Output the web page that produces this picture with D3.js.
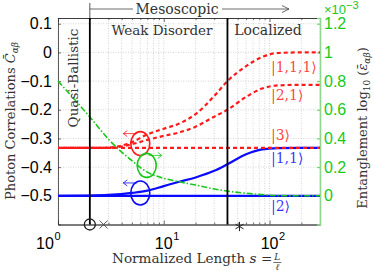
<!DOCTYPE html>
<html>
<head>
<meta charset="utf-8">
<script src="https://cdn.jsdelivr.net/npm/d3@7"></script>
<style>
body { margin: 0; background: #fff; }
svg { display: block; }
</style>
</head>
<body>
<div class="canvas"></div>
<script>
// sample lengths s = L / l
var sValues = [1, 2, 3, 5, 7, 10, 14, 20, 30, 40, 60, 85, 120, 200, 300];
// photon correlations (left axis)
var ket111 = [-0.333, -0.333, -0.332, -0.313, -0.286, -0.266, -0.248, -0.215, -0.152, -0.100, -0.048, -0.016, -0.002, 0, 0];
var ket21  = [-0.333, -0.333, -0.333, -0.320, -0.305, -0.291, -0.279, -0.259, -0.224, -0.200, -0.155, -0.126, -0.115, -0.113, -0.113];
var ket3   = [-0.333, -0.333, -0.333, -0.333, -0.333, -0.333, -0.333, -0.333, -0.333, -0.333, -0.333, -0.333, -0.333, -0.333, -0.333];
var ket11  = [-0.500, -0.499, -0.497, -0.490, -0.482, -0.466, -0.451, -0.436, -0.413, -0.390, -0.355, -0.338, -0.334, -0.333, -0.333];
var ket2   = [-0.500, -0.500, -0.500, -0.500, -0.500, -0.500, -0.500, -0.500, -0.500, -0.500, -0.500, -0.500, -0.500, -0.500, -0.500];
// entanglement (right axis, x 1e-3)
var entangle = [0.80, 0.55, 0.395, 0.245, 0.165, 0.122, 0.098, 0.075, 0.048, 0.033, 0.018, 0.008, 0.002, 0, 0];

var leftTicks = [0.1, 0, -0.1, -0.2, -0.3, -0.4, -0.5];
var rightTicks = [0, 0.2, 0.4, 0.6, 0.8, 1, 1.2];
var xMajor = [1, 10, 100];
var xMinor = [2, 3, 4, 5, 6, 7, 8, 9, 20, 30, 40, 50, 60, 70, 80, 90, 200, 300];
var regionBounds = [2, 40];
var ketNames = ["|1,1,1\u27E9", "|2,1\u27E9", "|3\u27E9", "|1,1\u27E9", "|2\u27E9"];
// "O" annotations: s position, left-axis value
var ringS = [6, 6.9, 6];
var ringV = [-0.318, -0.394, -0.49];

var W = 374, H = 271;
var pL = 58, pR = 320, pT = 18, pB = 224.5;

var x = d3.scaleLog().domain([1, 300]).range([pL, pR]);
var yL = d3.scaleLinear().domain([-0.6, 0.12]).range([pB, pT]);
var yR = d3.scaleLinear().domain([-0.2, 1.24]).range([pB, pT]);

var RED = "#ff1a1a", BLUE = "#0a0aff", GREEN = "#19c819";
var SERIF = "'DejaVu Serif', serif", SANS = "'Liberation Sans', Arial, sans-serif";

var svg = d3.select(".canvas").append("svg")
	.attr("width", W)
	.attr("height", H);

// grid
var grid = svg.append("g");
xMajor.concat(xMinor).forEach(function(v){
	grid.append("line")
		.attr("x1", x(v)).attr("x2", x(v))
		.attr("y1", pT).attr("y2", pB)
		.attr("stroke", "#c4c4c4")
		.attr("stroke-width", 0.7)
		.attr("stroke-dasharray", "1,1.5");
});
leftTicks.forEach(function(v){
	grid.append("line")
		.attr("x1", pL).attr("x2", pR)
		.attr("y1", yL(v)).attr("y2", yL(v))
		.attr("stroke", "#c4c4c4")
		.attr("stroke-width", 0.7)
		.attr("stroke-dasharray", "1,1.5");
});

// axes
svg.append("g").attr("transform", "translate(0," + pB + ")")
	.call(d3.axisBottom(x).tickValues(xMajor).tickSize(-4).tickFormat(""));
svg.append("g").attr("transform", "translate(0," + pB + ")")
	.call(d3.axisBottom(x).tickValues(xMinor).tickSize(-2).tickFormat(""));
svg.append("g").attr("transform", "translate(0," + pT + ")")
	.call(d3.axisTop(x).tickValues(xMajor).tickSize(-4).tickFormat(""));
svg.append("g").attr("transform", "translate(0," + pT + ")")
	.call(d3.axisTop(x).tickValues(xMinor).tickSize(-2).tickFormat(""));
var axL = svg.append("g").attr("transform", "translate(" + pL + ",0)")
	.call(d3.axisLeft(yL).tickValues(leftTicks).tickSize(-3).tickPadding(6)
		.tickFormat(function(d){ return d === 0 ? "0" : d3.format(".1f")(d).replace("-", "\u2212"); }));
var axR = svg.append("g").attr("transform", "translate(" + pR + ",0)")
	.call(d3.axisRight(yR).tickValues(rightTicks).tickSize(-3).tickPadding(4)
		.tickFormat(function(d){ return d === 0 || d === 1 ? String(d) : d3.format(".1f")(d); }));

svg.selectAll(".domain").attr("stroke", "#333").attr("stroke-width", 0.8);
svg.selectAll(".tick line").attr("stroke", "#333").attr("stroke-width", 0.7);
axL.selectAll("text").attr("font-family", SANS).attr("font-size", "16px").attr("fill", "#000");
axR.selectAll("text").attr("font-family", SANS).attr("font-size", "16px").attr("fill", GREEN);
axR.select(".domain").attr("stroke", "#8fd68f").attr("stroke-width", 1.6);
axR.selectAll(".tick line").attr("stroke", GREEN);

// x tick labels 10^k
xMajor.forEach(function(v, i){
	var t = svg.append("text")
		.attr("x", x(v) + (i === 0 ? -13 : 0))
		.attr("y", pB + 24)
		.attr("text-anchor", "middle")
		.attr("font-family", SANS)
		.attr("font-size", "16px")
		.text("10");
	var bb = t.node().getBBox();
	svg.append("text")
		.attr("x", bb.x + bb.width + 0.5)
		.attr("y", pB + 15)
		.attr("font-family", SANS)
		.attr("font-size", "11px")
		.text(String(Math.round(Math.log10(v))));
});

// curves
var line = function(ys, yscale){
	return d3.line()
		.x(function(d, i){ return x(sValues[i]); })
		.y(function(d){ return yscale(d); })
		.curve(d3.curveMonotoneX)(ys);
};
var plot = svg.append("g");
plot.append("path").attr("d", line(ket2, yL)).attr("fill", "none").attr("stroke", BLUE).attr("stroke-width", 2.2);
plot.append("path").attr("d", line(ket11, yL)).attr("fill", "none").attr("stroke", BLUE).attr("stroke-width", 2.2);
[ket3, ket21, ket111].forEach(function(c, i){
	plot.append("path").attr("d", line(c, yL)).attr("fill", "none")
		.attr("stroke", RED).attr("stroke-width", 2.2)
		.attr("stroke-dasharray", "4,3").attr("stroke-dashoffset", i * 2);
});
plot.append("path").attr("d", line(entangle, yR)).attr("fill", "none")
	.attr("stroke", GREEN).attr("stroke-width", 1.6)
	.attr("stroke-dasharray", "6,2,1.5,2");

// region boundaries
regionBounds.forEach(function(v){
	svg.append("line")
		.attr("x1", x(v)).attr("x2", x(v))
		.attr("y1", pT).attr("y2", pB)
		.attr("stroke", "#000").attr("stroke-width", 1.8);
});

// Mesoscopic bracket
var xb = x(regionBounds[0]);
svg.append("line").attr("x1", xb).attr("x2", xb).attr("y1", 3).attr("y2", pT)
	.attr("stroke", "#444").attr("stroke-width", 0.9);
svg.append("line").attr("x1", xb).attr("x2", 133).attr("y1", 9).attr("y2", 9)
	.attr("stroke", "#444").attr("stroke-width", 0.8);
svg.append("line").attr("x1", 222).attr("x2", 289).attr("y1", 9).attr("y2", 9)
	.attr("stroke", "#444").attr("stroke-width", 0.8);
svg.append("path").attr("d", "M282,5.5L289,9L282,12.5").attr("fill", "none")
	.attr("stroke", "#444").attr("stroke-width", 0.8);
svg.append("text").attr("x", 177).attr("y", 13.5).attr("text-anchor", "middle")
	.attr("font-family", SERIF).attr("font-size", "14px").attr("fill", "#333")
	.text("Mesoscopic");

svg.append("text").attr("x", 162).attr("y", 35).attr("text-anchor", "middle")
	.attr("font-family", SERIF).attr("font-size", "13.5px").attr("fill", "#333")
	.text("Weak Disorder");
svg.append("text").attr("x", 268).attr("y", 35).attr("text-anchor", "middle")
	.attr("font-family", SERIF).attr("font-size", "14px").attr("fill", "#333")
	.text("Localized");
svg.append("text").attr("transform", "translate(78,78) rotate(-90)").attr("text-anchor", "middle")
	.attr("font-family", SERIF).attr("font-size", "13.5px").attr("fill", "#333")
	.text("Quasi-Ballistic");

// ket labels
var ketEnd = [ket111, ket21, ket3, ket11, ket2].map(function(c){ return c[c.length - 1]; });
var ketDy = [20, 15, -8, 15, 15];
var ketColor = [RED, RED, RED, BLUE, BLUE];
ketNames.forEach(function(n, i){
	svg.append("text")
		.attr("x", 271)
		.attr("y", yL(ketEnd[i]) + ketDy[i])
		.attr("font-family", SERIF).attr("font-size", "14px")
		.attr("fill", ketColor[i]).attr("fill-opacity", 0.85)
		.text(n);
});

// rings with arrows
var ringColor = [RED, GREEN, BLUE];
var ringDir = [-1, 1, -1];
ringS.forEach(function(s, i){
	var cx = x(s), cy = yL(ringV[i]);
	svg.append("ellipse").attr("cx", cx).attr("cy", cy).attr("rx", 9.5).attr("ry", 12)
		.attr("fill", "none").attr("stroke", ringColor[i]).attr("stroke-width", 1.6);
	var ay = cy - 10;
	var x0, x1;
	if (ringDir[i] < 0) { x0 = cx - 3; x1 = cx - 17; } else { x0 = cx + 2; x1 = cx + 15; }
	svg.append("line").attr("x1", x0).attr("x2", x1).attr("y1", ay).attr("y2", ay)
		.attr("stroke", ringColor[i]).attr("stroke-width", 0.8);
	svg.append("path")
		.attr("d", "M" + (x1 - ringDir[i] * 4) + "," + (ay - 3) + "L" + x1 + "," + ay + "L" + (x1 - ringDir[i] * 4) + "," + (ay + 3))
		.attr("fill", "none").attr("stroke", ringColor[i]).attr("stroke-width", 0.8);
});

// markers on the axis
svg.append("circle").attr("cx", x(2)).attr("cy", pB).attr("r", 5.5)
	.attr("fill", "none").attr("stroke", "#222").attr("stroke-width", 1.3);
var xx = x(2.7);
svg.append("path").attr("d", "M" + (xx - 4) + "," + (pB - 4) + "L" + (xx + 4) + "," + (pB + 4) + "M" + (xx - 4) + "," + (pB + 4) + "L" + (xx + 4) + "," + (pB - 4))
	.attr("stroke", "#444").attr("stroke-width", 0.9);
svg.append("path").attr("d", d3.symbol().type(d3.symbolAsterisk).size(60)())
	.attr("transform", "translate(" + x(52) + "," + (pB + 2) + ")")
	.attr("fill", "none").attr("stroke", "#222").attr("stroke-width", 1);

// axis labels
var yLab = svg.append("text").attr("transform", "translate(15,121) rotate(-90)")
	.attr("text-anchor", "middle").attr("font-family", SERIF).attr("font-size", "13px").attr("fill", "#333");
yLab.append("tspan").text("Photon Correlations ");
yLab.append("tspan").attr("font-style", "italic").text("C\u0304");
yLab.append("tspan").attr("font-style", "italic").attr("font-size", "9px").attr("dy", 3).text("\u03B1\u03B2");

var rLab = svg.append("text").attr("transform", "translate(367,128) rotate(-90)")
	.attr("text-anchor", "middle").attr("font-family", SERIF).attr("font-size", "13px").attr("fill", "#333");
rLab.append("tspan").text("Entanglement log");
rLab.append("tspan").attr("font-size", "9px").attr("dy", 3).text("10");
rLab.append("tspan").attr("dy", -3).text(" (");
rLab.append("tspan").attr("font-style", "italic").text("\u03B5\u0304");
rLab.append("tspan").attr("font-style", "italic").attr("font-size", "9px").attr("dy", 3).text("\u03B1\u03B2");
rLab.append("tspan").attr("dy", -3).text(")");

var xLab = svg.append("text").attr("x", 112).attr("y", 263)
	.attr("font-family", SERIF).attr("font-size", "13.6px").attr("fill", "#333");
xLab.append("tspan").text("Normalized Length ");
xLab.append("tspan").attr("font-style", "italic").text("s");
xLab.append("tspan").text(" = ");
var xe = xLab.node().getBBox();
var fx = xe.x + xe.width + 5;
svg.append("text").attr("x", fx).attr("y", 260).attr("text-anchor", "middle")
	.attr("font-family", SERIF).attr("font-style", "italic").attr("font-size", "9px").attr("fill", "#333").text("L");
svg.append("line").attr("x1", fx - 4).attr("x2", fx + 4).attr("y1", 262.5).attr("y2", 262.5)
	.attr("stroke", "#333").attr("stroke-width", 0.7);
svg.append("text").attr("x", fx).attr("y", 270).attr("text-anchor", "middle")
	.attr("font-family", SERIF).attr("font-style", "italic").attr("font-size", "9px").attr("fill", "#333").text("\u2113");

// x 10^-3
var ex = svg.append("text").attr("x", 324).attr("y", 14)
	.attr("font-family", SANS).attr("font-size", "13px").attr("fill", GREEN);
ex.append("tspan").text("\u00D710");
ex.append("tspan").attr("font-size", "11px").attr("dy", -5).text("\u22123");
</script>
</body>
</html>
